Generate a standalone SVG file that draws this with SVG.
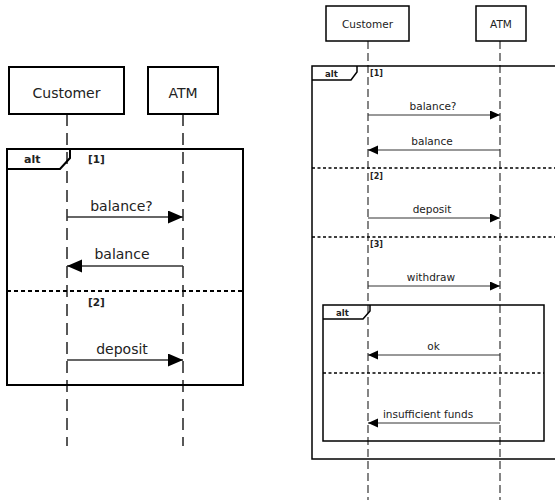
<svg xmlns="http://www.w3.org/2000/svg" width="555" height="500" viewBox="0 0 555 500">
<style>
  .box{fill:#fff;stroke:#000;stroke-width:2}
  .boxs{fill:#fff;stroke:#000;stroke-width:1.5}
  .lbl{font-family:"DejaVu Sans",sans-serif;fill:#222;text-anchor:middle}
  .life{stroke:#222;stroke-width:1.5;stroke-dasharray:12,7;fill:none}
  .lifes{stroke:#222;stroke-width:1.1;stroke-dasharray:8,4;fill:none}
  .frame{fill:none;stroke:#000;stroke-width:2}
  .frames{fill:none;stroke:#000;stroke-width:1.5}
  .sep{stroke:#000;stroke-width:2;stroke-dasharray:4,3}
  .seps{stroke:#000;stroke-width:1.5;stroke-dasharray:3,2.5}
  .kw{font-family:"DejaVu Sans",sans-serif;font-weight:bold;fill:#222}
  .msg{stroke:#333;stroke-width:1.3;fill:none;marker-end:url(#ah)}
  .msgs{stroke:#333;stroke-width:1;fill:none;marker-end:url(#ahs)}
</style>
<defs>
  <marker id="ah" markerUnits="userSpaceOnUse" markerWidth="16" markerHeight="14" refX="15" refY="6.5" orient="auto">
    <path d="M0,0 L15,6.5 L0,13 z" fill="#000"/>
  </marker>
  <marker id="ahs" markerUnits="userSpaceOnUse" markerWidth="11" markerHeight="10" refX="10" refY="4.5" orient="auto">
    <path d="M0,0 L10,4.5 L0,9 z" fill="#000"/>
  </marker>
</defs>

<!-- LEFT DIAGRAM -->
<g id="left-lifelines">
  <line class="life" x1="67" y1="114" x2="67" y2="446"/>
  <line class="life" x1="183" y1="114" x2="183" y2="446"/>
</g>
<g id="left-customer">
  <rect class="box" x="9" y="67" width="115" height="47"/>
  <text class="lbl" x="66.5" y="98" font-size="14">Customer</text>
</g>
<g id="left-atm">
  <rect class="box" x="148" y="67" width="70" height="47"/>
  <text class="lbl" x="183" y="98" font-size="14">ATM</text>
</g>
<g id="left-alt">
  <rect class="frame" x="7" y="149" width="236" height="236"/>
  <path class="frame" d="M7,169 L60,169 L70,158 L70,149"/>
  <text class="kw" x="24" y="163" font-size="11">alt</text>
  <text class="kw" x="88" y="163" font-size="10.5">[1]</text>
  <line class="sep" x1="7" y1="291" x2="243" y2="291"/>
  <text class="kw" x="88" y="306" font-size="10.5">[2]</text>
</g>
<g id="left-connectors">
  <line class="msg" x1="67" y1="217" x2="183" y2="217"/>
  <text class="lbl" x="121.5" y="211" font-size="14">balance?</text>
  <line class="msg" x1="183" y1="266" x2="67" y2="266"/>
  <text class="lbl" x="122" y="259" font-size="14">balance</text>
  <line class="msg" x1="67" y1="360" x2="183" y2="360"/>
  <text class="lbl" x="122" y="354" font-size="14">deposit</text>
</g>

<!-- RIGHT DIAGRAM -->
<g id="right-lifelines">
  <line class="lifes" x1="368" y1="41" x2="368" y2="500"/>
  <line class="lifes" x1="500" y1="41" x2="500" y2="500"/>
</g>
<g id="right-customer">
  <rect class="boxs" x="326" y="6" width="83" height="35"/>
  <text class="lbl" x="367.5" y="28" font-size="10.5">Customer</text>
</g>
<g id="right-atm">
  <rect class="boxs" x="476" y="6" width="50" height="35"/>
  <text class="lbl" x="501" y="28" font-size="10.5">ATM</text>
</g>
<g id="right-alt-outer">
  <rect class="frames" x="312" y="66" width="250" height="393"/>
  <path class="frames" d="M312,80 L351,80 L357,72 L357,66"/>
  <text class="kw" x="325" y="77" font-size="8.5">alt</text>
  <text class="kw" x="370" y="76" font-size="8">[1]</text>
  <line class="seps" x1="312" y1="168" x2="555" y2="168"/>
  <text class="kw" x="370" y="179" font-size="8">[2]</text>
  <line class="seps" x1="312" y1="237" x2="555" y2="237"/>
  <text class="kw" x="370" y="247" font-size="8">[3]</text>
</g>
<g id="right-alt-inner">
  <rect class="frames" x="323" y="305" width="221" height="136"/>
  <path class="frames" d="M323,319 L363,319 L370,311 L370,305"/>
  <text class="kw" x="336" y="316" font-size="8.5">alt</text>
  <line class="seps" x1="323" y1="373" x2="544" y2="373"/>
</g>
<g id="right-connectors">
  <line class="msgs" x1="368" y1="115" x2="500" y2="115"/>
  <text class="lbl" x="433" y="110" font-size="10.5">balance?</text>
  <line class="msgs" x1="500" y1="150" x2="368" y2="150"/>
  <text class="lbl" x="432" y="145" font-size="10.5">balance</text>
  <line class="msgs" x1="368" y1="218" x2="500" y2="218"/>
  <text class="lbl" x="432" y="213" font-size="10.5">deposit</text>
  <line class="msgs" x1="368" y1="286" x2="500" y2="286"/>
  <text class="lbl" x="431" y="281" font-size="10.5">withdraw</text>
  <line class="msgs" x1="500" y1="355" x2="368" y2="355"/>
  <text class="lbl" x="433.5" y="350" font-size="10.5">ok</text>
  <line class="msgs" x1="500" y1="423" x2="368" y2="423"/>
  <text class="lbl" x="428" y="418" font-size="10.5">insufficient funds</text>
</g>
</svg>
